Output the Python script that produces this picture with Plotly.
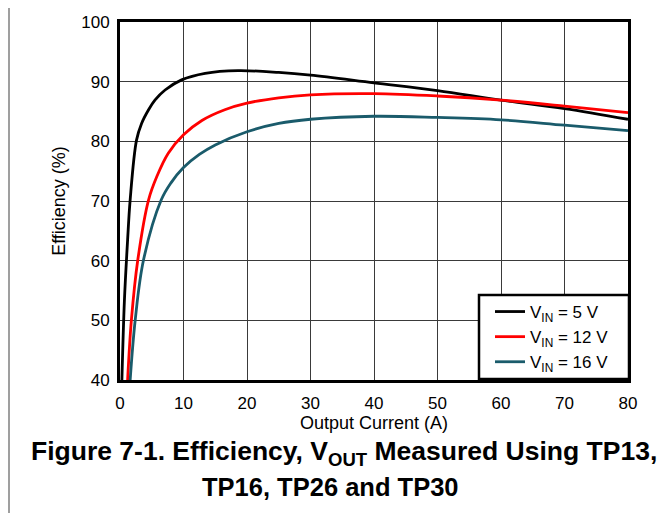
import plotly.graph_objects as go

# Data
i_5v = [0.3, 0.7, 1.2, 1.6, 2.6, 3.4, 4.5, 5.5, 7.1, 9.7, 13.4, 18.6, 25, 30, 40, 50, 60, 70, 80]
eff_5v = [40, 53.4, 63.5, 70.2, 80.2, 83.0, 85.3, 86.9, 88.6, 90.3, 91.4, 91.85, 91.55, 91.1, 89.8, 88.5, 86.9, 85.5, 83.7]

i_12v = [1.2, 1.8, 2.8, 4.5, 5.8, 7.6, 10, 12.9, 16.5, 20, 25, 30, 40, 50, 60, 70, 80]
eff_12v = [40, 50.1, 60.1, 70.2, 74.1, 78.0, 81.1, 83.5, 85.3, 86.4, 87.3, 87.8, 88.0, 87.6, 86.9, 85.9, 84.8]

i_16v = [1.6, 2.4, 3.7, 6.5, 8, 10, 12.5, 15, 20, 25, 30, 40, 50, 60, 70, 80]
eff_16v = [40, 50.1, 60.1, 70.2, 73.0, 75.6, 77.8, 79.4, 81.6, 83.0, 83.7, 84.2, 84.0, 83.6, 82.7, 81.8]

series_names = ["V<sub>IN</sub> = 5 V", "V<sub>IN</sub> = 12 V", "V<sub>IN</sub> = 16 V"]
series_colors = ["#000000", "#ff0000", "#1a5b6b"]

x_ticks = [0, 10, 20, 30, 40, 50, 60, 70, 80]
y_ticks = [40, 50, 60, 70, 80, 90, 100]

# page body adds an 8px offset; work in reference-pixel coordinates
OFF = 8
W, H = 667 - OFF, 513 - OFF
PL, PR, PT, PB = 120, 628, 22, 380  # plot area in reference pixels
L, R, T, B = PL - OFF, W - (PR - OFF), PT - OFF, H - (PB - OFF)

def px(xp):
    return (xp - PL) / (PR - PL)

def py(yp):
    return (PB - yp) / (PB - PT)

fig = go.Figure()
for xs, ys, name, col in zip([i_5v, i_12v, i_16v], [eff_5v, eff_12v, eff_16v], series_names, series_colors):
    fig.add_trace(go.Scatter(x=xs, y=ys, mode="lines", name=name,
                             line=dict(color=col, width=2.8, shape="spline", smoothing=1.0)))

font = "Liberation Sans, Arial, sans-serif"
fig.update_layout(
    width=W, height=H,
    margin=dict(l=L, r=R, t=T, b=B, autoexpand=False),
    paper_bgcolor="white", plot_bgcolor="white",
    font=dict(family=font, size=17, color="black"),
    showlegend=True,
    legend=dict(x=px(490), y=py(337), xanchor="left", yanchor="middle",
                bgcolor="rgba(0,0,0,0)", borderwidth=0,
                font=dict(size=17, family=font), tracegroupgap=0,
                itemwidth=30),
    xaxis=dict(range=[0, 80], tickvals=x_ticks, showgrid=True, gridcolor="#3a3a3a", gridwidth=1,
               showline=True, linecolor="black", linewidth=3, mirror=True, ticks="",
               zeroline=False, tickfont=dict(size=17), ticklabelstandoff=6,
               title=dict(text="Output Current (A)", font=dict(size=18), standoff=2)),
    yaxis=dict(range=[40, 100], tickvals=y_ticks, showgrid=True, gridcolor="#3a3a3a", gridwidth=1,
               showline=True, linecolor="black", linewidth=3, mirror=True, ticks="",
               zeroline=False, tickfont=dict(size=17), ticklabelstandoff=4,
               title=dict(text="Efficiency (%)", font=dict(size=18), standoff=11)),
    shapes=[
        dict(type="rect", xref="paper", yref="paper",
             x0=px(9), x1=px(720), y0=py(3), y1=py(560),
             line=dict(color="#808080", width=1.5), layer="below"),
        dict(type="rect", xref="paper", yref="paper",
             x0=px(479), x1=px(629), y0=py(295), y1=py(379),
             fillcolor="white", line=dict(color="black", width=2.5), layer="above"),
    ],
    annotations=[
        dict(text="<b>Figure 7-1. Efficiency, V<sub>OUT</sub> Measured Using TP13,</b>",
             xref="paper", yref="paper", x=px(344), y=py(453), xanchor="center", yanchor="middle",
             showarrow=False, font=dict(size=26.5, family=font)),
        dict(text="<b>TP16, TP26 and TP30</b>",
             xref="paper", yref="paper", x=px(330), y=py(487), xanchor="center", yanchor="middle",
             showarrow=False, font=dict(size=25.5, family=font)),
    ],
)

fig.write_html("out.html")
